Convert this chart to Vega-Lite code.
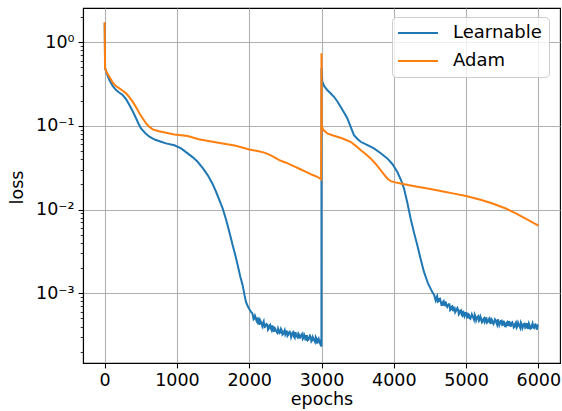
{
  "$schema": "https://vega.github.io/schema/vega-lite/v6.json",
  "width": 477,
  "height": 355,
  "autosize": {"type": "none"},
  "padding": {"left": 83, "top": 8, "right": 2, "bottom": 48},
  "background": "white",
  "data": {
    "values": [
      {"epoch": 0, "loss": 1.70, "series": "Learnable"},
      {"epoch": 6, "loss": 0.485, "series": "Learnable"},
      {"epoch": 30, "loss": 0.42, "series": "Learnable"},
      {"epoch": 65, "loss": 0.352, "series": "Learnable"},
      {"epoch": 110, "loss": 0.30, "series": "Learnable"},
      {"epoch": 158, "loss": 0.267, "series": "Learnable"},
      {"epoch": 200, "loss": 0.25, "series": "Learnable"},
      {"epoch": 249, "loss": 0.233, "series": "Learnable"},
      {"epoch": 300, "loss": 0.205, "series": "Learnable"},
      {"epoch": 342, "loss": 0.177, "series": "Learnable"},
      {"epoch": 390, "loss": 0.148, "series": "Learnable"},
      {"epoch": 434, "loss": 0.123, "series": "Learnable"},
      {"epoch": 470, "loss": 0.105, "series": "Learnable"},
      {"epoch": 503, "loss": 0.093, "series": "Learnable"},
      {"epoch": 560, "loss": 0.082, "series": "Learnable"},
      {"epoch": 618, "loss": 0.074, "series": "Learnable"},
      {"epoch": 700, "loss": 0.068, "series": "Learnable"},
      {"epoch": 780, "loss": 0.0645, "series": "Learnable"},
      {"epoch": 849, "loss": 0.0616, "series": "Learnable"},
      {"epoch": 964, "loss": 0.0585, "series": "Learnable"},
      {"epoch": 1057, "loss": 0.0537, "series": "Learnable"},
      {"epoch": 1148, "loss": 0.0468, "series": "Learnable"},
      {"epoch": 1220, "loss": 0.042, "series": "Learnable"},
      {"epoch": 1286, "loss": 0.0372, "series": "Learnable"},
      {"epoch": 1360, "loss": 0.031, "series": "Learnable"},
      {"epoch": 1425, "loss": 0.0258, "series": "Learnable"},
      {"epoch": 1490, "loss": 0.0205, "series": "Learnable"},
      {"epoch": 1541, "loss": 0.0163, "series": "Learnable"},
      {"epoch": 1590, "loss": 0.0128, "series": "Learnable"},
      {"epoch": 1632, "loss": 0.0103, "series": "Learnable"},
      {"epoch": 1670, "loss": 0.0081, "series": "Learnable"},
      {"epoch": 1701, "loss": 0.0065, "series": "Learnable"},
      {"epoch": 1740, "loss": 0.0048, "series": "Learnable"},
      {"epoch": 1770, "loss": 0.00376, "series": "Learnable"},
      {"epoch": 1805, "loss": 0.0029, "series": "Learnable"},
      {"epoch": 1840, "loss": 0.00217, "series": "Learnable"},
      {"epoch": 1875, "loss": 0.0016, "series": "Learnable"},
      {"epoch": 1909, "loss": 0.00125, "series": "Learnable"},
      {"epoch": 1935, "loss": 0.00095, "series": "Learnable"},
      {"epoch": 1955, "loss": 0.00079, "series": "Learnable"},
      {"epoch": 1980, "loss": 0.00070, "series": "Learnable"},
      {"epoch": 2005, "loss": 0.00064, "series": "Learnable"},
      {"epoch": 2025, "loss": 0.00060, "series": "Learnable"},
      {"epoch": 2040, "loss": 0.00058, "series": "Learnable"},
      {"epoch": 2050, "loss": 0.00055, "series": "Learnable"},
      {"epoch": 2060, "loss": 0.00049, "series": "Learnable"},
      {"epoch": 2070, "loss": 0.000501, "series": "Learnable"},
      {"epoch": 2080, "loss": 0.00054, "series": "Learnable"},
      {"epoch": 2090, "loss": 0.000513, "series": "Learnable"},
      {"epoch": 2100, "loss": 0.000468, "series": "Learnable"},
      {"epoch": 2110, "loss": 0.000452, "series": "Learnable"},
      {"epoch": 2120, "loss": 0.000513, "series": "Learnable"},
      {"epoch": 2130, "loss": 0.000467, "series": "Learnable"},
      {"epoch": 2140, "loss": 0.00042, "series": "Learnable"},
      {"epoch": 2150, "loss": 0.000479, "series": "Learnable"},
      {"epoch": 2160, "loss": 0.000457, "series": "Learnable"},
      {"epoch": 2170, "loss": 0.000437, "series": "Learnable"},
      {"epoch": 2180, "loss": 0.000407, "series": "Learnable"},
      {"epoch": 2190, "loss": 0.000442, "series": "Learnable"},
      {"epoch": 2200, "loss": 0.000463, "series": "Learnable"},
      {"epoch": 2210, "loss": 0.000394, "series": "Learnable"},
      {"epoch": 2220, "loss": 0.000398, "series": "Learnable"},
      {"epoch": 2230, "loss": 0.000422, "series": "Learnable"},
      {"epoch": 2240, "loss": 0.000431, "series": "Learnable"},
      {"epoch": 2250, "loss": 0.000422, "series": "Learnable"},
      {"epoch": 2260, "loss": 0.000367, "series": "Learnable"},
      {"epoch": 2270, "loss": 0.000378, "series": "Learnable"},
      {"epoch": 2280, "loss": 0.000412, "series": "Learnable"},
      {"epoch": 2290, "loss": 0.00042, "series": "Learnable"},
      {"epoch": 2300, "loss": 0.00038, "series": "Learnable"},
      {"epoch": 2310, "loss": 0.000363, "series": "Learnable"},
      {"epoch": 2320, "loss": 0.000412, "series": "Learnable"},
      {"epoch": 2330, "loss": 0.000376, "series": "Learnable"},
      {"epoch": 2340, "loss": 0.000347, "series": "Learnable"},
      {"epoch": 2350, "loss": 0.000387, "series": "Learnable"},
      {"epoch": 2360, "loss": 0.00038, "series": "Learnable"},
      {"epoch": 2370, "loss": 0.000357, "series": "Learnable"},
      {"epoch": 2380, "loss": 0.000343, "series": "Learnable"},
      {"epoch": 2390, "loss": 0.000335, "series": "Learnable"},
      {"epoch": 2400, "loss": 0.00038, "series": "Learnable"},
      {"epoch": 2410, "loss": 0.000361, "series": "Learnable"},
      {"epoch": 2420, "loss": 0.000335, "series": "Learnable"},
      {"epoch": 2430, "loss": 0.000341, "series": "Learnable"},
      {"epoch": 2440, "loss": 0.000376, "series": "Learnable"},
      {"epoch": 2450, "loss": 0.000361, "series": "Learnable"},
      {"epoch": 2460, "loss": 0.00032, "series": "Learnable"},
      {"epoch": 2470, "loss": 0.000326, "series": "Learnable"},
      {"epoch": 2480, "loss": 0.000347, "series": "Learnable"},
      {"epoch": 2490, "loss": 0.000363, "series": "Learnable"},
      {"epoch": 2500, "loss": 0.00032, "series": "Learnable"},
      {"epoch": 2510, "loss": 0.000333, "series": "Learnable"},
      {"epoch": 2520, "loss": 0.000359, "series": "Learnable"},
      {"epoch": 2530, "loss": 0.000311, "series": "Learnable"},
      {"epoch": 2540, "loss": 0.00032, "series": "Learnable"},
      {"epoch": 2550, "loss": 0.000341, "series": "Learnable"},
      {"epoch": 2560, "loss": 0.000347, "series": "Learnable"},
      {"epoch": 2570, "loss": 0.00033, "series": "Learnable"},
      {"epoch": 2580, "loss": 0.000299, "series": "Learnable"},
      {"epoch": 2590, "loss": 0.000316, "series": "Learnable"},
      {"epoch": 2600, "loss": 0.000339, "series": "Learnable"},
      {"epoch": 2610, "loss": 0.000345, "series": "Learnable"},
      {"epoch": 2620, "loss": 0.000302, "series": "Learnable"},
      {"epoch": 2630, "loss": 0.000294, "series": "Learnable"},
      {"epoch": 2640, "loss": 0.000343, "series": "Learnable"},
      {"epoch": 2650, "loss": 0.000322, "series": "Learnable"},
      {"epoch": 2660, "loss": 0.000305, "series": "Learnable"},
      {"epoch": 2670, "loss": 0.000297, "series": "Learnable"},
      {"epoch": 2680, "loss": 0.000331, "series": "Learnable"},
      {"epoch": 2690, "loss": 0.00032, "series": "Learnable"},
      {"epoch": 2700, "loss": 0.000288, "series": "Learnable"},
      {"epoch": 2710, "loss": 0.000308, "series": "Learnable"},
      {"epoch": 2720, "loss": 0.000316, "series": "Learnable"},
      {"epoch": 2730, "loss": 0.000326, "series": "Learnable"},
      {"epoch": 2740, "loss": 0.000285, "series": "Learnable"},
      {"epoch": 2750, "loss": 0.000294, "series": "Learnable"},
      {"epoch": 2760, "loss": 0.00032, "series": "Learnable"},
      {"epoch": 2770, "loss": 0.000304, "series": "Learnable"},
      {"epoch": 2780, "loss": 0.000272, "series": "Learnable"},
      {"epoch": 2790, "loss": 0.000309, "series": "Learnable"},
      {"epoch": 2800, "loss": 0.000309, "series": "Learnable"},
      {"epoch": 2810, "loss": 0.000274, "series": "Learnable"},
      {"epoch": 2820, "loss": 0.000279, "series": "Learnable"},
      {"epoch": 2830, "loss": 0.000294, "series": "Learnable"},
      {"epoch": 2840, "loss": 0.000312, "series": "Learnable"},
      {"epoch": 2850, "loss": 0.000301, "series": "Learnable"},
      {"epoch": 2860, "loss": 0.000266, "series": "Learnable"},
      {"epoch": 2870, "loss": 0.000274, "series": "Learnable"},
      {"epoch": 2880, "loss": 0.000299, "series": "Learnable"},
      {"epoch": 2890, "loss": 0.000282, "series": "Learnable"},
      {"epoch": 2900, "loss": 0.000272, "series": "Learnable"},
      {"epoch": 2910, "loss": 0.000262, "series": "Learnable"},
      {"epoch": 2920, "loss": 0.000299, "series": "Learnable"},
      {"epoch": 2930, "loss": 0.000287, "series": "Learnable"},
      {"epoch": 2940, "loss": 0.000251, "series": "Learnable"},
      {"epoch": 2950, "loss": 0.000279, "series": "Learnable"},
      {"epoch": 2960, "loss": 0.000288, "series": "Learnable"},
      {"epoch": 2970, "loss": 0.000262, "series": "Learnable"},
      {"epoch": 2980, "loss": 0.000251, "series": "Learnable"},
      {"epoch": 2990, "loss": 0.000279, "series": "Learnable"},
      {"epoch": 2999, "loss": 0.00023, "series": "Learnable"},
      {"epoch": 3000, "loss": 0.49, "series": "Learnable"},
      {"epoch": 3011, "loss": 0.336, "series": "Learnable"},
      {"epoch": 3040, "loss": 0.295, "series": "Learnable"},
      {"epoch": 3080, "loss": 0.267, "series": "Learnable"},
      {"epoch": 3125, "loss": 0.245, "series": "Learnable"},
      {"epoch": 3173, "loss": 0.222, "series": "Learnable"},
      {"epoch": 3220, "loss": 0.195, "series": "Learnable"},
      {"epoch": 3264, "loss": 0.169, "series": "Learnable"},
      {"epoch": 3310, "loss": 0.145, "series": "Learnable"},
      {"epoch": 3357, "loss": 0.123, "series": "Learnable"},
      {"epoch": 3400, "loss": 0.099, "series": "Learnable"},
      {"epoch": 3449, "loss": 0.0774, "series": "Learnable"},
      {"epoch": 3495, "loss": 0.070, "series": "Learnable"},
      {"epoch": 3541, "loss": 0.0644, "series": "Learnable"},
      {"epoch": 3630, "loss": 0.059, "series": "Learnable"},
      {"epoch": 3726, "loss": 0.0537, "series": "Learnable"},
      {"epoch": 3820, "loss": 0.047, "series": "Learnable"},
      {"epoch": 3910, "loss": 0.0408, "series": "Learnable"},
      {"epoch": 3980, "loss": 0.035, "series": "Learnable"},
      {"epoch": 4048, "loss": 0.0282, "series": "Learnable"},
      {"epoch": 4100, "loss": 0.0225, "series": "Learnable"},
      {"epoch": 4141, "loss": 0.0179, "series": "Learnable"},
      {"epoch": 4190, "loss": 0.0118, "series": "Learnable"},
      {"epoch": 4233, "loss": 0.00783, "series": "Learnable"},
      {"epoch": 4280, "loss": 0.0053, "series": "Learnable"},
      {"epoch": 4325, "loss": 0.00376, "series": "Learnable"},
      {"epoch": 4370, "loss": 0.0026, "series": "Learnable"},
      {"epoch": 4418, "loss": 0.0018, "series": "Learnable"},
      {"epoch": 4475, "loss": 0.0013, "series": "Learnable"},
      {"epoch": 4532, "loss": 0.00104, "series": "Learnable"},
      {"epoch": 4560, "loss": 0.000948, "series": "Learnable"},
      {"epoch": 4570, "loss": 0.000873, "series": "Learnable"},
      {"epoch": 4580, "loss": 0.000822, "series": "Learnable"},
      {"epoch": 4590, "loss": 0.000887, "series": "Learnable"},
      {"epoch": 4600, "loss": 0.000927, "series": "Learnable"},
      {"epoch": 4610, "loss": 0.000794, "series": "Learnable"},
      {"epoch": 4620, "loss": 0.000802, "series": "Learnable"},
      {"epoch": 4630, "loss": 0.000857, "series": "Learnable"},
      {"epoch": 4640, "loss": 0.000863, "series": "Learnable"},
      {"epoch": 4650, "loss": 0.000794, "series": "Learnable"},
      {"epoch": 4660, "loss": 0.000724, "series": "Learnable"},
      {"epoch": 4670, "loss": 0.000724, "series": "Learnable"},
      {"epoch": 4680, "loss": 0.000785, "series": "Learnable"},
      {"epoch": 4690, "loss": 0.000804, "series": "Learnable"},
      {"epoch": 4700, "loss": 0.000708, "series": "Learnable"},
      {"epoch": 4710, "loss": 0.000750, "series": "Learnable"},
      {"epoch": 4720, "loss": 0.000794, "series": "Learnable"},
      {"epoch": 4730, "loss": 0.0007, "series": "Learnable"},
      {"epoch": 4740, "loss": 0.000684, "series": "Learnable"},
      {"epoch": 4750, "loss": 0.000724, "series": "Learnable"},
      {"epoch": 4760, "loss": 0.000741, "series": "Learnable"},
      {"epoch": 4770, "loss": 0.000741, "series": "Learnable"},
      {"epoch": 4780, "loss": 0.000631, "series": "Learnable"},
      {"epoch": 4790, "loss": 0.000646, "series": "Learnable"},
      {"epoch": 4800, "loss": 0.000693, "series": "Learnable"},
      {"epoch": 4810, "loss": 0.000701, "series": "Learnable"},
      {"epoch": 4820, "loss": 0.000612, "series": "Learnable"},
      {"epoch": 4830, "loss": 0.000649, "series": "Learnable"},
      {"epoch": 4840, "loss": 0.000689, "series": "Learnable"},
      {"epoch": 4850, "loss": 0.000593, "series": "Learnable"},
      {"epoch": 4860, "loss": 0.000614, "series": "Learnable"},
      {"epoch": 4870, "loss": 0.000637, "series": "Learnable"},
      {"epoch": 4880, "loss": 0.000667, "series": "Learnable"},
      {"epoch": 4890, "loss": 0.000637, "series": "Learnable"},
      {"epoch": 4900, "loss": 0.000562, "series": "Learnable"},
      {"epoch": 4910, "loss": 0.000583, "series": "Learnable"},
      {"epoch": 4920, "loss": 0.000619, "series": "Learnable"},
      {"epoch": 4930, "loss": 0.000628, "series": "Learnable"},
      {"epoch": 4940, "loss": 0.000548, "series": "Learnable"},
      {"epoch": 4950, "loss": 0.000537, "series": "Learnable"},
      {"epoch": 4960, "loss": 0.000618, "series": "Learnable"},
      {"epoch": 4970, "loss": 0.000571, "series": "Learnable"},
      {"epoch": 4980, "loss": 0.000535, "series": "Learnable"},
      {"epoch": 4990, "loss": 0.000581, "series": "Learnable"},
      {"epoch": 5000, "loss": 0.000582, "series": "Learnable"},
      {"epoch": 5010, "loss": 0.000535, "series": "Learnable"},
      {"epoch": 5020, "loss": 0.000501, "series": "Learnable"},
      {"epoch": 5030, "loss": 0.000566, "series": "Learnable"},
      {"epoch": 5040, "loss": 0.000556, "series": "Learnable"},
      {"epoch": 5050, "loss": 0.000505, "series": "Learnable"},
      {"epoch": 5060, "loss": 0.000495, "series": "Learnable"},
      {"epoch": 5070, "loss": 0.000528, "series": "Learnable"},
      {"epoch": 5080, "loss": 0.000562, "series": "Learnable"},
      {"epoch": 5090, "loss": 0.000535, "series": "Learnable"},
      {"epoch": 5100, "loss": 0.000507, "series": "Learnable"},
      {"epoch": 5110, "loss": 0.000482, "series": "Learnable"},
      {"epoch": 5120, "loss": 0.000556, "series": "Learnable"},
      {"epoch": 5130, "loss": 0.000529, "series": "Learnable"},
      {"epoch": 5140, "loss": 0.000473, "series": "Learnable"},
      {"epoch": 5150, "loss": 0.000499, "series": "Learnable"},
      {"epoch": 5160, "loss": 0.000525, "series": "Learnable"},
      {"epoch": 5170, "loss": 0.000535, "series": "Learnable"},
      {"epoch": 5180, "loss": 0.000468, "series": "Learnable"},
      {"epoch": 5190, "loss": 0.000482, "series": "Learnable"},
      {"epoch": 5200, "loss": 0.000525, "series": "Learnable"},
      {"epoch": 5210, "loss": 0.000494, "series": "Learnable"},
      {"epoch": 5220, "loss": 0.000449, "series": "Learnable"},
      {"epoch": 5230, "loss": 0.000458, "series": "Learnable"},
      {"epoch": 5240, "loss": 0.000494, "series": "Learnable"},
      {"epoch": 5250, "loss": 0.000505, "series": "Learnable"},
      {"epoch": 5260, "loss": 0.000453, "series": "Learnable"},
      {"epoch": 5270, "loss": 0.000473, "series": "Learnable"},
      {"epoch": 5280, "loss": 0.000516, "series": "Learnable"},
      {"epoch": 5290, "loss": 0.000444, "series": "Learnable"},
      {"epoch": 5300, "loss": 0.000452, "series": "Learnable"},
      {"epoch": 5310, "loss": 0.000482, "series": "Learnable"},
      {"epoch": 5320, "loss": 0.000498, "series": "Learnable"},
      {"epoch": 5330, "loss": 0.000457, "series": "Learnable"},
      {"epoch": 5340, "loss": 0.00043, "series": "Learnable"},
      {"epoch": 5350, "loss": 0.000492, "series": "Learnable"},
      {"epoch": 5360, "loss": 0.000479, "series": "Learnable"},
      {"epoch": 5370, "loss": 0.00044, "series": "Learnable"},
      {"epoch": 5380, "loss": 0.000429, "series": "Learnable"},
      {"epoch": 5390, "loss": 0.000457, "series": "Learnable"},
      {"epoch": 5400, "loss": 0.000489, "series": "Learnable"},
      {"epoch": 5410, "loss": 0.000475, "series": "Learnable"},
      {"epoch": 5420, "loss": 0.000443, "series": "Learnable"},
      {"epoch": 5430, "loss": 0.000421, "series": "Learnable"},
      {"epoch": 5440, "loss": 0.000488, "series": "Learnable"},
      {"epoch": 5450, "loss": 0.000458, "series": "Learnable"},
      {"epoch": 5460, "loss": 0.000417, "series": "Learnable"},
      {"epoch": 5470, "loss": 0.000441, "series": "Learnable"},
      {"epoch": 5480, "loss": 0.000466, "series": "Learnable"},
      {"epoch": 5490, "loss": 0.00047, "series": "Learnable"},
      {"epoch": 5500, "loss": 0.000417, "series": "Learnable"},
      {"epoch": 5510, "loss": 0.000421, "series": "Learnable"},
      {"epoch": 5520, "loss": 0.000471, "series": "Learnable"},
      {"epoch": 5530, "loss": 0.000439, "series": "Learnable"},
      {"epoch": 5540, "loss": 0.000403, "series": "Learnable"},
      {"epoch": 5550, "loss": 0.000402, "series": "Learnable"},
      {"epoch": 5560, "loss": 0.000445, "series": "Learnable"},
      {"epoch": 5570, "loss": 0.000454, "series": "Learnable"},
      {"epoch": 5580, "loss": 0.000407, "series": "Learnable"},
      {"epoch": 5590, "loss": 0.000436, "series": "Learnable"},
      {"epoch": 5600, "loss": 0.000466, "series": "Learnable"},
      {"epoch": 5610, "loss": 0.000409, "series": "Learnable"},
      {"epoch": 5620, "loss": 0.000407, "series": "Learnable"},
      {"epoch": 5630, "loss": 0.000441, "series": "Learnable"},
      {"epoch": 5640, "loss": 0.00045, "series": "Learnable"},
      {"epoch": 5650, "loss": 0.000424, "series": "Learnable"},
      {"epoch": 5660, "loss": 0.000389, "series": "Learnable"},
      {"epoch": 5670, "loss": 0.000397, "series": "Learnable"},
      {"epoch": 5680, "loss": 0.000435, "series": "Learnable"},
      {"epoch": 5690, "loss": 0.000449, "series": "Learnable"},
      {"epoch": 5700, "loss": 0.000389, "series": "Learnable"},
      {"epoch": 5710, "loss": 0.000403, "series": "Learnable"},
      {"epoch": 5720, "loss": 0.000446, "series": "Learnable"},
      {"epoch": 5730, "loss": 0.000425, "series": "Learnable"},
      {"epoch": 5740, "loss": 0.000405, "series": "Learnable"},
      {"epoch": 5750, "loss": 0.000386, "series": "Learnable"},
      {"epoch": 5760, "loss": 0.000448, "series": "Learnable"},
      {"epoch": 5770, "loss": 0.000427, "series": "Learnable"},
      {"epoch": 5780, "loss": 0.000385, "series": "Learnable"},
      {"epoch": 5790, "loss": 0.000406, "series": "Learnable"},
      {"epoch": 5800, "loss": 0.00043, "series": "Learnable"},
      {"epoch": 5810, "loss": 0.000434, "series": "Learnable"},
      {"epoch": 5820, "loss": 0.000386, "series": "Learnable"},
      {"epoch": 5830, "loss": 0.00039, "series": "Learnable"},
      {"epoch": 5840, "loss": 0.000438, "series": "Learnable"},
      {"epoch": 5850, "loss": 0.000407, "series": "Learnable"},
      {"epoch": 5860, "loss": 0.000375, "series": "Learnable"},
      {"epoch": 5870, "loss": 0.000435, "series": "Learnable"},
      {"epoch": 5880, "loss": 0.000415, "series": "Learnable"},
      {"epoch": 5890, "loss": 0.000378, "series": "Learnable"},
      {"epoch": 5900, "loss": 0.000382, "series": "Learnable"},
      {"epoch": 5910, "loss": 0.000413, "series": "Learnable"},
      {"epoch": 5920, "loss": 0.000437, "series": "Learnable"},
      {"epoch": 5930, "loss": 0.000389, "series": "Learnable"},
      {"epoch": 5940, "loss": 0.000384, "series": "Learnable"},
      {"epoch": 5950, "loss": 0.00042, "series": "Learnable"},
      {"epoch": 5960, "loss": 0.000425, "series": "Learnable"},
      {"epoch": 5970, "loss": 0.000391, "series": "Learnable"},
      {"epoch": 5980, "loss": 0.000368, "series": "Learnable"},
      {"epoch": 5990, "loss": 0.000413, "series": "Learnable"},
      {"epoch": 6000, "loss": 0.000407, "series": "Learnable"},

      {"epoch": 0, "loss": 1.72, "series": "Adam"},
      {"epoch": 5, "loss": 0.49, "series": "Adam"},
      {"epoch": 30, "loss": 0.43, "series": "Adam"},
      {"epoch": 65, "loss": 0.385, "series": "Adam"},
      {"epoch": 110, "loss": 0.33, "series": "Adam"},
      {"epoch": 150, "loss": 0.30, "series": "Adam"},
      {"epoch": 203, "loss": 0.28, "series": "Adam"},
      {"epoch": 250, "loss": 0.262, "series": "Adam"},
      {"epoch": 296, "loss": 0.244, "series": "Adam"},
      {"epoch": 340, "loss": 0.22, "series": "Adam"},
      {"epoch": 387, "loss": 0.194, "series": "Adam"},
      {"epoch": 435, "loss": 0.166, "series": "Adam"},
      {"epoch": 480, "loss": 0.141, "series": "Adam"},
      {"epoch": 525, "loss": 0.123, "series": "Adam"},
      {"epoch": 573, "loss": 0.107, "series": "Adam"},
      {"epoch": 620, "loss": 0.097, "series": "Adam"},
      {"epoch": 664, "loss": 0.0906, "series": "Adam"},
      {"epoch": 750, "loss": 0.086, "series": "Adam"},
      {"epoch": 849, "loss": 0.0826, "series": "Adam"},
      {"epoch": 964, "loss": 0.0789, "series": "Adam"},
      {"epoch": 1148, "loss": 0.0753, "series": "Adam"},
      {"epoch": 1300, "loss": 0.069, "series": "Adam"},
      {"epoch": 1494, "loss": 0.0644, "series": "Adam"},
      {"epoch": 1632, "loss": 0.0616, "series": "Adam"},
      {"epoch": 1800, "loss": 0.058, "series": "Adam"},
      {"epoch": 2001, "loss": 0.052, "series": "Adam"},
      {"epoch": 2100, "loss": 0.0502, "series": "Adam"},
      {"epoch": 2209, "loss": 0.0478, "series": "Adam"},
      {"epoch": 2278, "loss": 0.0452, "series": "Adam"},
      {"epoch": 2350, "loss": 0.042, "series": "Adam"},
      {"epoch": 2416, "loss": 0.0389, "series": "Adam"},
      {"epoch": 2500, "loss": 0.0365, "series": "Adam"},
      {"epoch": 2600, "loss": 0.0335, "series": "Adam"},
      {"epoch": 2700, "loss": 0.0305, "series": "Adam"},
      {"epoch": 2786, "loss": 0.0282, "series": "Adam"},
      {"epoch": 2870, "loss": 0.026, "series": "Adam"},
      {"epoch": 2943, "loss": 0.0246, "series": "Adam"},
      {"epoch": 2995, "loss": 0.0229, "series": "Adam"},
      {"epoch": 3000, "loss": 0.733, "series": "Adam"},
      {"epoch": 3003, "loss": 0.102, "series": "Adam"},
      {"epoch": 3020, "loss": 0.090, "series": "Adam"},
      {"epoch": 3080, "loss": 0.081, "series": "Adam"},
      {"epoch": 3150, "loss": 0.077, "series": "Adam"},
      {"epoch": 3218, "loss": 0.074, "series": "Adam"},
      {"epoch": 3300, "loss": 0.0700, "series": "Adam"},
      {"epoch": 3403, "loss": 0.0644, "series": "Adam"},
      {"epoch": 3470, "loss": 0.058, "series": "Adam"},
      {"epoch": 3541, "loss": 0.0513, "series": "Adam"},
      {"epoch": 3610, "loss": 0.046, "series": "Adam"},
      {"epoch": 3680, "loss": 0.0408, "series": "Adam"},
      {"epoch": 3750, "loss": 0.035, "series": "Adam"},
      {"epoch": 3818, "loss": 0.0296, "series": "Adam"},
      {"epoch": 3870, "loss": 0.026, "series": "Adam"},
      {"epoch": 3910, "loss": 0.0235, "series": "Adam"},
      {"epoch": 3960, "loss": 0.0218, "series": "Adam"},
      {"epoch": 4020, "loss": 0.0211, "series": "Adam"},
      {"epoch": 4094, "loss": 0.0205, "series": "Adam"},
      {"epoch": 4200, "loss": 0.0196, "series": "Adam"},
      {"epoch": 4325, "loss": 0.0187, "series": "Adam"},
      {"epoch": 4450, "loss": 0.0179, "series": "Adam"},
      {"epoch": 4578, "loss": 0.0171, "series": "Adam"},
      {"epoch": 4700, "loss": 0.0163, "series": "Adam"},
      {"epoch": 4800, "loss": 0.0157, "series": "Adam"},
      {"epoch": 4999, "loss": 0.0145, "series": "Adam"},
      {"epoch": 5200, "loss": 0.0131, "series": "Adam"},
      {"epoch": 5367, "loss": 0.0118, "series": "Adam"},
      {"epoch": 5550, "loss": 0.0103, "series": "Adam"},
      {"epoch": 5690, "loss": 0.00898, "series": "Adam"},
      {"epoch": 5850, "loss": 0.0076, "series": "Adam"},
      {"epoch": 5950, "loss": 0.0068, "series": "Adam"},
      {"epoch": 5990, "loss": 0.00651, "series": "Adam"},
      {"epoch": 6000, "loss": 0.0064, "series": "Adam"}
    ]
  },
  "mark": {"type": "line", "strokeWidth": 2, "interpolate": "linear"},
  "encoding": {
    "x": {
      "field": "epoch",
      "type": "quantitative",
      "scale": {"domain": [-300, 6300], "nice": false, "zero": false},
      "axis": {
        "values": [0, 1000, 2000, 3000, 4000, 5000, 6000],
        "title": "epochs",
        "format": "d",
        "tickSize": 4.9,
        "tickWidth": 1.1,
        "labelPadding": 4,
        "labelFlush": false,
        "labelOverlap": false,
        "titleBaseline": "alphabetic",
        "titleY": 41
      }
    },
    "y": {
      "field": "loss",
      "type": "quantitative",
      "scale": {"type": "log", "domain": [0.000147, 2.55], "nice": false},
      "axis": {
        "values": [0.0002, 0.0003, 0.0004, 0.0005, 0.0006, 0.0007, 0.0008, 0.0009,
                   0.001, 0.002, 0.003, 0.004, 0.005, 0.006, 0.007, 0.008, 0.009,
                   0.01, 0.02, 0.03, 0.04, 0.05, 0.06, 0.07, 0.08, 0.09,
                   0.1, 0.2, 0.3, 0.4, 0.5, 0.6, 0.7, 0.8, 0.9, 1, 2],
        "title": "loss",
        "labelExpr": "datum.value == 1 ? '10⁰' : datum.value == 0.1 ? '10⁻¹' : datum.value == 0.01 ? '10⁻²' : datum.value == 0.001 ? '10⁻³' : ''",
        "tickSize": {"condition": {"test": "abs(log(datum.value)/LN10 - round(log(datum.value)/LN10)) < 0.001", "value": 4.9}, "value": 2.8},
        "tickWidth": {"condition": {"test": "abs(log(datum.value)/LN10 - round(log(datum.value)/LN10)) < 0.001", "value": 1.1}, "value": 0.8},
        "gridOpacity": {"condition": {"test": "abs(log(datum.value)/LN10 - round(log(datum.value)/LN10)) < 0.001", "value": 1}, "value": 0},
        "labelPadding": 4,
        "labelFlush": false,
        "labelOverlap": false,
        "labelBound": false,
        "titleBaseline": "alphabetic",
        "titleX": -61,
        "titleY": 179
      }
    },
    "color": {
      "field": "series",
      "type": "nominal",
      "sort": ["Learnable", "Adam"],
      "scale": {"domain": ["Learnable", "Adam"], "range": ["#1f77b4", "#ff7f0e"]},
      "legend": {
        "title": null,
        "orient": "none",
        "legendX": 309,
        "legendY": 9,
        "symbolType": "M-4,0H4",
        "symbolSize": 100,
        "symbolOffset": 10,
        "symbolStrokeWidth": 2,
        "labelOffset": 26,
        "rowPadding": 10,
        "padding": 7
      }
    }
  },
  "config": {
    "font": "DejaVu Sans",
    "view": {"stroke": "#000000", "strokeWidth": 1.1},
    "axis": {
      "domainColor": "#000000",
      "domainWidth": 1.1,
      "tickColor": "#000000",
      "labelColor": "#000000",
      "titleColor": "#000000",
      "labelFont": "DejaVu Sans",
      "titleFont": "DejaVu Sans",
      "labelFontSize": 17.5,
      "titleFontSize": 17.5,
      "titleFontWeight": "normal",
      "gridColor": "#b0b0b0",
      "gridWidth": 1.1
    },
    "legend": {
      "labelFont": "DejaVu Sans",
      "labelFontSize": 18,
      "labelColor": "#000000",
      "strokeColor": "#cccccc",
      "fillColor": "rgba(255,255,255,0.8)",
      "cornerRadius": 4
    }
  }
}
